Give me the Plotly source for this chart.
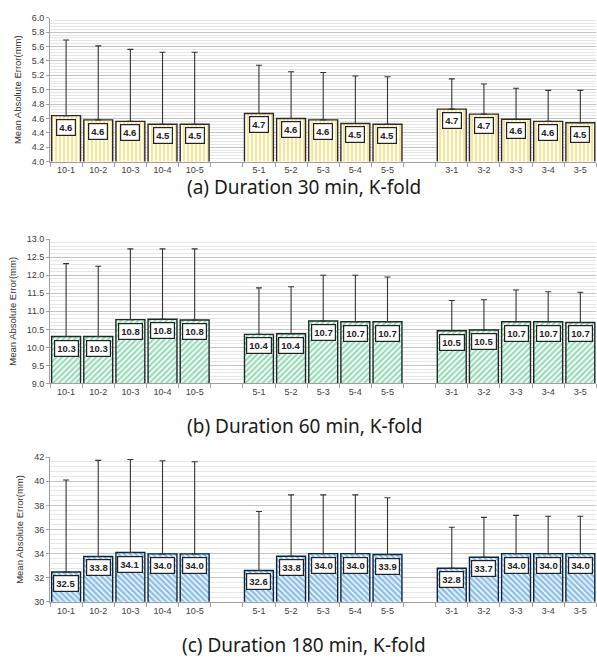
import plotly.graph_objects as go

categories = ["10-1", "10-2", "10-3", "10-4", "10-5",
              "5-1", "5-2", "5-3", "5-4", "5-5",
              "3-1", "3-2", "3-3", "3-4", "3-5"]
positions = [0, 1, 2, 3, 4, 6, 7, 8, 9, 10, 12, 13, 14, 15, 16]

mae_30 = [4.64, 4.58, 4.56, 4.52, 4.52, 4.67, 4.60, 4.58, 4.53, 4.52, 4.73, 4.66, 4.59, 4.56, 4.54]
std_30 = [1.05, 1.03, 1.00, 1.00, 1.00, 0.67, 0.65, 0.66, 0.66, 0.66, 0.42, 0.42, 0.43, 0.43, 0.45]

mae_60 = [10.30, 10.30, 10.77, 10.78, 10.76, 10.36, 10.38, 10.73, 10.71, 10.71, 10.46, 10.48, 10.71, 10.71, 10.69]
std_60 = [2.02, 1.95, 1.96, 1.95, 1.97, 1.29, 1.30, 1.27, 1.29, 1.24, 0.84, 0.84, 0.88, 0.83, 0.84]

mae_180 = [32.47, 33.76, 34.09, 33.98, 33.98, 32.60, 33.78, 34.00, 34.00, 33.92, 32.78, 33.70, 34.00, 34.00, 34.00]
std_180 = [7.63, 7.97, 7.71, 7.72, 7.64, 4.89, 5.09, 4.87, 4.87, 4.71, 3.40, 3.30, 3.17, 3.10, 3.10]

titles = ["(a) Duration 30 min, K-fold", "(b) Duration 60 min, K-fold", "(c) Duration 180 min, K-fold"]

panels = [
    dict(vals=mae_30, errs=std_30, color="#FFC000", shape="|", line="#2a2a2a", sol=0.45,
         yrange=[4.0, 6.0], dtick=0.2, minor=0.04, fmt=".1f",
         ydom=[0.7598, 0.9804], title_y=185),
    dict(vals=mae_60, errs=std_60, color="#2EB872", shape="/", line="#1c2a22", sol=0.55,
         yrange=[9.0, 13.0], dtick=0.5, minor=0.1, fmt=".1f",
         ydom=[0.4195, 0.6409], title_y=427),
    dict(vals=mae_180, errs=std_180, color="#1C7FD4", shape="\\", line="#0d2440", sol=0.65,
         yrange=[30, 42], dtick=2, minor=0.4, fmt=".0f",
         ydom=[0.0846, 0.3066], title_y=650),
]

fig = go.Figure()
annotations = []
H = 662
for i, p in enumerate(panels):
    k = "" if i == 0 else str(i + 1)
    fig.add_trace(go.Bar(
        x=positions, y=p["vals"], width=0.9,
        marker=dict(color=p["color"], line=dict(color=p["line"], width=1.4),
                    pattern=dict(shape=p["shape"], fgcolor=p["color"], bgcolor="white",
                                 size=4, solidity=p["sol"])),
        error_y=dict(type="data", symmetric=False, array=p["errs"],
                     arrayminus=[0] * len(p["errs"]), color="#333333",
                     thickness=1.1, width=3),
        xaxis="x" + k, yaxis="y" + k, showlegend=False,
    ))
    for xv, v in zip(positions, p["vals"]):
        annotations.append(dict(
            x=xv, y=v, xref="x" + k, yref="y" + k, text="<b>%.1f</b>" % v,
            showarrow=False, yanchor="top", yshift=-3,
            font=dict(family="Liberation Sans", size=9.5, color="#222222"),
            bgcolor="white", bordercolor="#222222", borderwidth=1.2, borderpad=2,
        ))
    annotations.append(dict(
        x=0.51, y=1 - p["title_y"] / H, xref="paper", yref="paper",
        text=titles[i], showarrow=False, xanchor="center", yanchor="middle",
        font=dict(family="Noto Sans", size=19, color="#1a1a1a"),
    ))
    fig.layout["xaxis" + k] = dict(
        domain=[0.0838, 0.999], anchor="y" + k, range=[-0.5, 16.5],
        tickmode="array", tickvals=positions, ticktext=categories, ticks="",
        tickfont=dict(family="Liberation Sans", size=9, color="#404040"),
        showgrid=False, showline=True, linecolor="#a0a0a0", linewidth=1,
        zeroline=False, fixedrange=True,
        minor=dict(tickmode="linear", tick0=-0.5, dtick=1, ticks="outside",
                   ticklen=4, tickcolor="#a0a0a0", showgrid=False),
    )
    fig.layout["yaxis" + k] = dict(
        domain=p["ydom"], anchor="x" + k, range=p["yrange"],
        tickmode="linear", tick0=p["yrange"][0], dtick=p["dtick"],
        tickformat=p["fmt"], ticks="outside", ticklen=3, tickcolor="#a0a0a0",
        tickfont=dict(family="Liberation Sans", size=9, color="#404040"),
        showgrid=True, gridcolor="#c4c4c4", gridwidth=1,
        showline=True, linecolor="#a0a0a0", linewidth=1, zeroline=False,
        minor=dict(dtick=p["minor"], showgrid=True, gridcolor="#e6e6e6", gridwidth=1),
        title=dict(text="Mean Absolute Error(mm)", standoff=8,
                   font=dict(family="Liberation Sans", size=9.5, color="#333333")),
    )

fig.update_layout(
    width=597, height=662, margin=dict(l=0, r=0, t=0, b=0),
    paper_bgcolor="white", plot_bgcolor="white",
    annotations=annotations, bargap=0.1,
)
fig.write_html("out.html", config={"displayModeBar": False},
               post_script="document.body.style.margin='0';document.body.style.overflow='hidden';")
